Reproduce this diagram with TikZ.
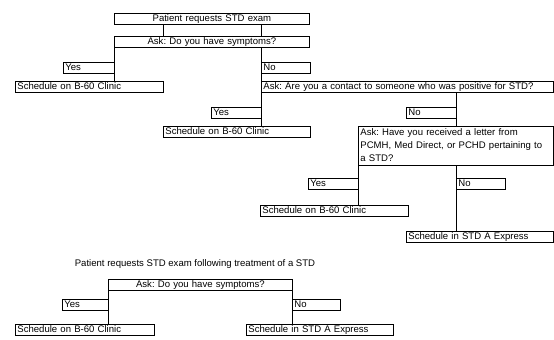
\documentclass[tikz,border=0pt]{standalone}
\usepackage{fontspec}
\setmainfont{Liberation Sans}
\usetikzlibrary{shadows}
\frenchspacing
\begin{document}
\begin{tikzpicture}[x=1bp,y=-1bp,
 box/.style={draw, fill=white, line width=0.8bp, inner xsep=2bp, inner ysep=0bp,
   anchor=north west, minimum height=11bp, font=\fontsize{9.6}{13}\selectfont\frenchspacing,
   general shadow={fill=black, shadow xshift=0.9bp, shadow yshift=-0.9bp}},
 one/.style={text height=7bp, text depth=2bp},
 lb/.style={box, one, text width=#1bp, align=left},
 cb/.style={box, one, text width=#1bp, align=center},
 link/.style={line width=0.8bp}]
\useasboundingbox (0,0) rectangle (554,339);
% top chart
\node[cb=191] (b1) at (114,13) {Patient requests STD exam};
\node[cb=191] (b2) at (114,36) {Ask: Do you have symptoms?};
\node[lb=47] (y1) at (63,62) {Yes};
\node[lb=45] (n1) at (261,62) {No};
\node[lb=144] (s1) at (15,81) {Schedule on B-60 Clinic};
\node[lb=288] (a2) at (261,81) {Ask: Are you a contact to someone who was positive for STD?};
\node[lb=46] (y2) at (211,107) {Yes};
\node[lb=46] (n2) at (406,107) {No};
\node[lb=143] (s2) at (163,126) {Schedule on B-60 Clinic};
\node[box, text width=191bp, align=left, minimum height=39bp, text height=7bp, text depth=28bp] (a3) at (358,126)
  {Ask: Have you received a letter from\\PCMH, Med Direct, or PCHD pertaining to\\a STD?};
\node[lb=46] (y3) at (308,178) {Yes};
\node[lb=45] (n3) at (456,178) {No};
\node[lb=144] (s3) at (260,205) {Schedule on B-60 Clinic};
\node[lb=143] (s4) at (406,231) {Schedule in STD A Express};
% bottom chart
\node[font=\fontsize{9.6}{12}\selectfont\frenchspacing] (t2) at (195,264) {Patient requests STD exam following treatment of a STD};
\node[cb=180] (b3) at (108,279) {Ask: Do you have symptoms?};
\node[lb=42] (y4) at (62,299) {Yes};
\node[lb=44] (n4) at (292,299) {No};
\node[lb=135] (s5) at (15,324) {Schedule on B-60 Clinic};
\node[lb=143] (s6) at (246,324) {Schedule in STD A Express};
% connectors
\draw[link] (b1.south -| s1.east) -- (b2.north -| s1.east);
\draw[link] (b1.south -| a2.west) -- (b2.north -| a2.west);
\draw[link] (b2.south west) -- (b2.south west |- s1.north);
\draw[link] (b2.south -| a2.west) -- (a2.north west);
\draw[link] (a2.south west) -- (a2.south west |- s2.north);
\draw[link] (a2.south -| n2.east) -- (a3.north -| n2.east);
\draw[link] (a3.south west) -- (a3.south west |- s3.north);
\draw[link] (a3.south -| n2.east) -- (s4.north -| n2.east);
\draw[link] (b3.south west) -- (b3.south west |- s5.north);
\draw[link] (b3.south east) -- (b3.south east |- s6.north);
\end{tikzpicture}
\end{document}
